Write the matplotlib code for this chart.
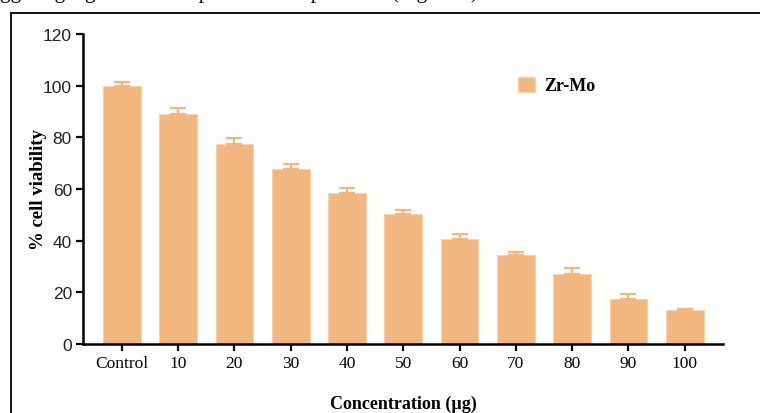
import numpy as np
from matplotlib import pyplot as plt
from matplotlib.patches import Patch

categories = ['Control', '10', '20', '30', '40', '50', '60', '70', '80', '90', '100']
viability = [100, 89, 77.5, 67.8, 58.3, 50.3, 40.8, 34.3, 27.2, 17.5, 13.1]
error = [1.3, 2.5, 2.3, 1.8, 2.0, 1.5, 1.8, 1.5, 2.1, 1.8, 0.6]
yticks = [0, 20, 40, 60, 80, 100, 120]

bar_color = '#F1B77E'

fig = plt.figure(figsize=(7.6, 4.14), dpi=100)

# page border + clipped text line above the figure
fig.add_artist(plt.Line2D([11/760, 11/760], [0, 1 - 14/414], color='black', lw=1.3))
fig.add_artist(plt.Line2D([11/760, 1], [1 - 14/414, 1 - 14/414], color='black', lw=1.3))
fig.text(0.0, 1 + 2/414, 'ggering significant antiproliferative potential (Figure 6).',
         family='Liberation Serif', fontsize=15.5, va='baseline', ha='left')

ax = fig.add_axes([83/760, 1 - 345/414, (723 - 83)/760, (345 - 35)/414])
x = np.arange(len(categories))
ax.bar(x, viability, width=0.67, color=bar_color, edgecolor='#F8D2AE', lw=0.8,
       yerr=[np.zeros(len(error)), error], error_kw=dict(ecolor=bar_color, elinewidth=1.6,
                                                        capsize=6, capthick=1.6))

ax.set_xlim(-0.69, 10.68)
ax.set_ylim(0, 120)
ax.set_yticks(yticks)
ax.set_xticks(x)
ax.set_xticklabels(categories, family='Liberation Serif', fontsize=12.5)
for t in ax.get_yticklabels():
    t.set_family('Liberation Sans')
    t.set_fontsize(12.5)
    t.set_color('#222222')

for s in ['top', 'right']:
    ax.spines[s].set_visible(False)
for s in ['left', 'bottom']:
    ax.spines[s].set_linewidth(1.8)
ax.tick_params(width=1.6, length=5, pad=3)

ax.set_ylabel('% cell viability', family='Liberation Serif', fontweight='bold', fontsize=13.5, labelpad=-3)
ax.set_xlabel('Concentration (\u00b5g)', family='Liberation Serif', fontweight='bold', fontsize=13, labelpad=17)

ax.legend(handles=[Patch(facecolor=bar_color, edgecolor='#F8D2AE', label='Zr-Mo')],
          loc='upper left', bbox_to_anchor=(0.655, 0.915), frameon=False,
          prop=dict(family='Liberation Serif', weight='bold', size=13),
          handlelength=0.9, handleheight=0.9, handletextpad=0.5)

plt.savefig('out.png', dpi=100)
